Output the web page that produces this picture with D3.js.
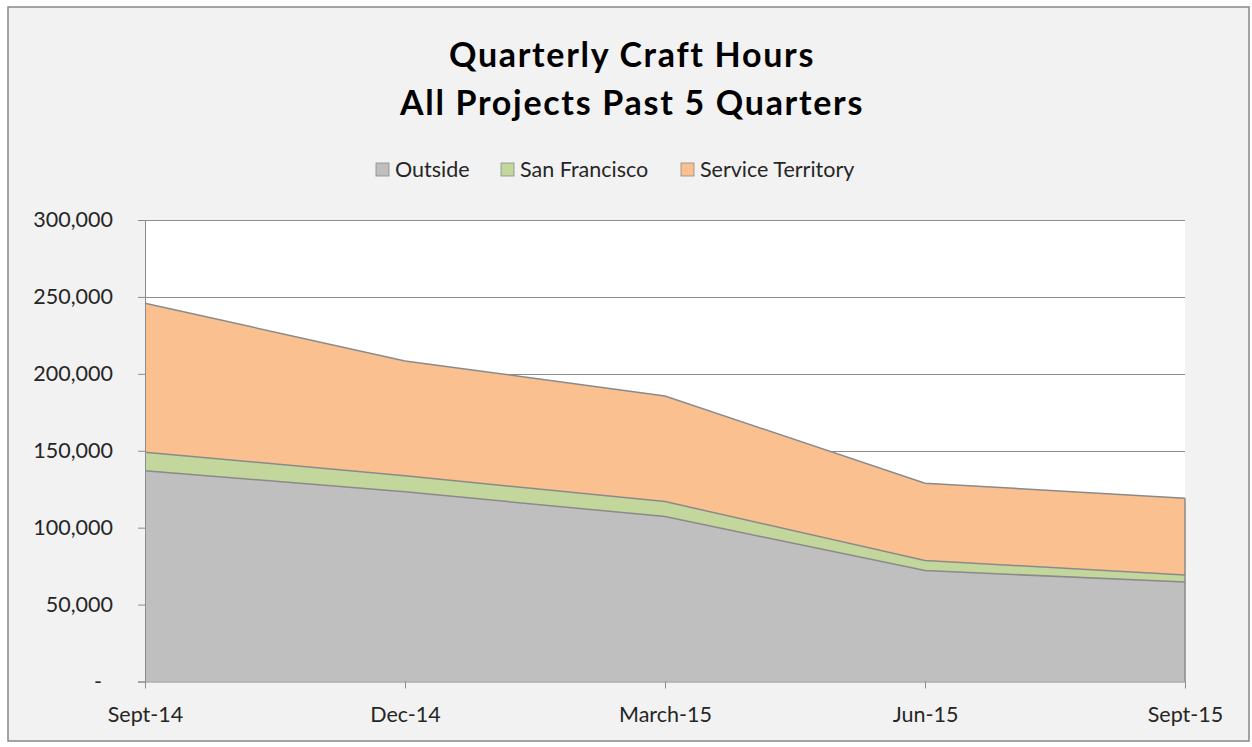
<!DOCTYPE html>
<html><head><meta charset="utf-8">
<script src="https://cdn.jsdelivr.net/npm/d3@7"></script>
<style>body{margin:0;background:#fff}svg{display:block}</style>
</head><body><svg id="c" width="1252" height="747"></svg>
<script>
const categories = ["Sept-14","Dec-14","March-15","Jun-15","Sept-15"];
const seriesNames = ["Outside","San Francisco","Service Territory"];
const outside = [137000,123300,107200,72100,64600];
const sanFrancisco = [12100,10400,9800,6500,4700];
const serviceTerritory = [96800,74700,68600,50300,49900];
const yTicks = [0,50000,100000,150000,200000,250000,300000];
const colors = ["#bfbfbf","#c3d69b","#fac090"];
const titleLines = ["Quarterly Craft Hours","All Projects Past 5 Quarters"];

const svg = d3.select("#c");
const font = "Lato, 'Open Sans', sans-serif";
svg.append("rect").attr("x",8).attr("y",7).attr("width",1241).attr("height",734)
  .attr("fill","#f2f2f2").attr("stroke","#888").attr("stroke-width",1.5);

const L=145,R=1185,T=220,B=681.5;
const x = d3.scalePoint().domain(categories).range([L,R]);
const y = d3.scaleLinear().domain([0,300000]).range([B,T]);

svg.append("rect").attr("x",L).attr("y",T).attr("width",R-L).attr("height",B-T).attr("fill","#fff");

svg.append("g").selectAll("line").data(yTicks.slice(1)).join("line")
  .attr("x1",L).attr("x2",R).attr("y1",d=>Math.round(y(d))+0.5).attr("y2",d=>Math.round(y(d))+0.5)
  .attr("stroke","#8c8c8c").attr("stroke-width",1);

const rows = categories.map((c,i)=>({cat:c,"Outside":outside[i],"San Francisco":sanFrancisco[i],"Service Territory":serviceTerritory[i]}));
const stacked = d3.stack().keys(seriesNames)(rows);
const area = d3.area().x(d=>x(d.data.cat)).y0(d=>y(d[0])).y1(d=>y(d[1]));
const line = d3.line().x(d=>x(d.data.cat)).y(d=>y(d[1]));
svg.append("g").selectAll("path").data(stacked).join("path")
  .attr("d",area).attr("fill",(d,i)=>colors[i]);
svg.append("g").selectAll("path").data(stacked).join("path")
  .attr("d",line).attr("fill","none").attr("stroke","#8a8a8a").attr("stroke-width",1.5);
svg.append("line").attr("x1",R).attr("x2",R).attr("y1",y(outside[4]+sanFrancisco[4]+serviceTerritory[4])).attr("y2",B)
  .attr("stroke","#8a8a8a").attr("stroke-width",1.5);

const yAxis = svg.append("g").attr("transform",`translate(${L},0)`)
  .call(d3.axisLeft(y).tickValues(yTicks).tickSize(7).tickPadding(25)
    .tickFormat(d=>d===0?"-":d3.format(",")(d)));
yAxis.select(".domain").attr("stroke","#8c8c8c");
yAxis.selectAll(".tick line").attr("stroke","#8c8c8c");
yAxis.selectAll("text").attr("font-family",font).attr("font-size",21.5).attr("fill","#262626");
yAxis.selectAll(".tick").filter(d=>d===0).select("text").attr("dx",-11);

const xAxis = svg.append("g").attr("transform",`translate(0,${B})`)
  .call(d3.axisBottom(x).tickSize(7).tickPadding(18).tickSizeOuter(0));
xAxis.select(".domain").attr("stroke","#8c8c8c");
xAxis.selectAll(".tick line").attr("stroke","#8c8c8c");
xAxis.selectAll("text").attr("font-family",font).attr("font-size",21.5).attr("fill","#262626");

svg.append("g").selectAll("text").data(titleLines).join("text")
  .attr("x",632).attr("y",(d,i)=>67+i*48).attr("text-anchor","middle")
  .attr("font-family",font).attr("font-weight","bold").attr("font-size",34)
  .attr("letter-spacing","1.7px").attr("fill","#000").text(d=>d);

const legendX=[376,501,681];
const lg = svg.append("g").selectAll("g").data(seriesNames).join("g")
  .attr("transform",(d,i)=>`translate(${legendX[i]},163)`);
lg.append("rect").attr("width",13).attr("height",13).attr("fill",(d,i)=>colors[i]).attr("stroke","#8a8a8a").attr("stroke-width",0.8);
lg.append("text").attr("x",19).attr("y",14).attr("font-family",font).attr("font-size",21.5).attr("fill","#262626").text(d=>d);
</script></body></html>
